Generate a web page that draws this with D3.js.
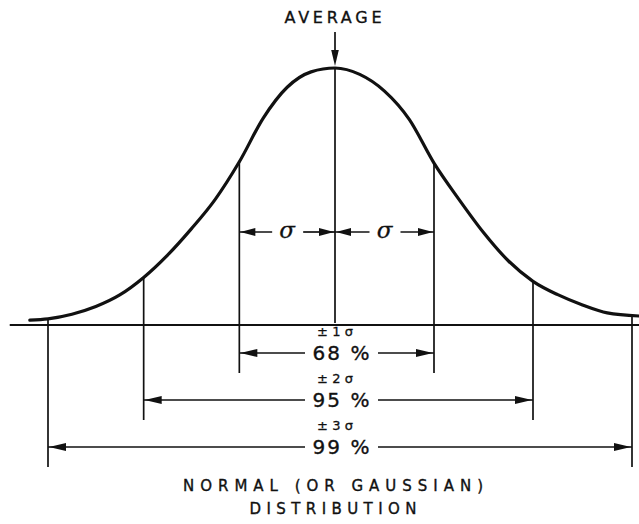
<!DOCTYPE html>
<html><head><meta charset="utf-8">
<script src="https://cdn.jsdelivr.net/npm/d3@7"></script>
<style>body{margin:0;background:#fff}svg{display:block}</style>
</head><body><svg id="c" width="639" height="524"></svg>
<script>
// ---- data (x in standard deviations, height as fraction of peak) ----
const curveSigma  = [-3.19,-3.0,-2.75,-2.5,-2.25,-2.0,-1.75,-1.5,-1.25,-1.0,-0.75,-0.5,-0.25,0,0.25,0.5,0.75,1.0,1.25,1.5,1.75,2.0,2.25,2.5,2.75,3.07];
const curveHeight = [0.019,0.024,0.042,0.072,0.117,0.185,0.272,0.375,0.49,0.635,0.805,0.925,0.985,1.0,0.975,0.91,0.80,0.63,0.49,0.36,0.25,0.17,0.118,0.078,0.047,0.035];
const sigmaLevels = [1, 2, 3];
const levelLabels = ["\u00B1 1 \u03C3", "\u00B1 2 \u03C3", "\u00B1 3 \u03C3"];
const percentLabels = ["68 %", "95 %", "99 %"];
const averageLabel = "AVERAGE";
const titleLines = ["NORMAL (OR GAUSSIAN)", "DISTRIBUTION"];

// ---- layout ----
const svg = d3.select("#c");
const x = d3.scaleLinear().domain([-3, 0, 3]).range([48, 335, 632]);
const y = d3.scaleLinear().domain([0, 1]).range([325, 68]);
const row = d3.scalePoint().domain(sigmaLevels).range([353, 447]);
const ink = "#111";
const sans = "'DejaVu Sans', 'Liberation Sans', sans-serif";

const pts = curveSigma.map((s, i) => [s, curveHeight[i]]);
const heightAt = s => {
  const xs = curveSigma, hs = curveHeight;
  for (let i = 0; i < xs.length - 1; i++) {
    if (s >= xs[i] && s <= xs[i + 1]) {
      const t = (s - xs[i]) / (xs[i + 1] - xs[i]);
      return hs[i] + t * (hs[i + 1] - hs[i]);
    }
  }
  return 0;
};

function arrowhead(tipX, tipY, dir, len = 15, hw = 4) {
  let p;
  if (dir === "down") p = `M${tipX},${tipY}L${tipX - hw},${tipY - len}L${tipX + hw},${tipY - len}Z`;
  else p = `M${tipX},${tipY}L${tipX - dir * len},${tipY - hw}L${tipX - dir * len},${tipY + hw}Z`;
  svg.append("path").attr("d", p).attr("fill", ink);
}
function label(txt, px, py, size, extra = {}) {
  const t = svg.append("text").text(txt)
    .attr("x", px).attr("y", py)
    .attr("text-anchor", "middle")
    .attr("font-family", extra.family || sans).attr("font-size", size)
    .attr("fill", ink).attr("stroke", ink).attr("stroke-width", extra.sw == null ? 0.35 : extra.sw);
  if (extra.len) t.attr("textLength", extra.len).attr("lengthAdjust", "spacing");
  if (extra.italic) t.attr("font-style", "italic");
  return t;
}

// baseline
svg.append("line")
  .attr("x1", x(-3.4)).attr("x2", 639)
  .attr("y1", y(0)).attr("y2", y(0))
  .attr("stroke", ink).attr("stroke-width", 2);

// curve
svg.append("path")
  .datum(pts)
  .attr("d", d3.line().x(d => x(d[0])).y(d => y(d[1])).curve(d3.curveMonotoneX))
  .attr("fill", "none").attr("stroke", ink).attr("stroke-width", 3.2)
  .attr("stroke-linecap", "round");

// centre line
svg.append("line")
  .attr("x1", x(0)).attr("x2", x(0))
  .attr("y1", y(1)).attr("y2", y(0) - 2)
  .attr("stroke", ink).attr("stroke-width", 1.7);

// AVERAGE label + arrow
label(averageLabel, x(0) - 2, 23, 16, { len: 97 });
svg.append("line")
  .attr("x1", x(0)).attr("x2", x(0))
  .attr("y1", 32).attr("y2", 55)
  .attr("stroke", ink).attr("stroke-width", 1.7);
arrowhead(x(0), y(1) - 2, "down", 16, 3.8);

// vertical sigma lines
sigmaLevels.forEach(k => {
  [-k, k].forEach(s => {
    svg.append("line")
      .attr("x1", x(s)).attr("x2", x(s))
      .attr("y1", y(heightAt(s)))
      .attr("y2", row(k) + 20)
      .attr("stroke", ink).attr("stroke-width", 1.7);
  });
});

// sigma arrows between -1,0 and 0,1
const sigY = 232;
[[-1, 0], [0, 1]].forEach(([a, b]) => {
  const xa = x(a), xb = x(b), mid = (xa + xb) / 2;
  svg.append("line").attr("x1", xa).attr("x2", mid - 15).attr("y1", sigY).attr("y2", sigY)
    .attr("stroke", ink).attr("stroke-width", 1.7);
  svg.append("line").attr("x1", mid + 16).attr("x2", xb).attr("y1", sigY).attr("y2", sigY)
    .attr("stroke", ink).attr("stroke-width", 1.7);
  arrowhead(xa + 1, sigY, -1, 15, 4);
  arrowhead(xb - 1, sigY, 1, 15, 4);
  label("\u03C3", mid, sigY + 6, 23, { family: "'DejaVu Serif', serif", italic: true, sw: 0.3 });
});

// percentage brackets
sigmaLevels.forEach((k, i) => {
  const ry = row(k);
  const cx = x(0) + 6;
  label(levelLabels[i], x(0), ry - 17, 13, { sw: 0.3, len: 36 });
  label(percentLabels[i], cx, ry + 7, 20, { len: 57 });
  const left = x(-k), right = x(k);
  svg.append("line").attr("x1", left).attr("x2", cx - 36).attr("y1", ry).attr("y2", ry)
    .attr("stroke", ink).attr("stroke-width", 1.7);
  svg.append("line").attr("x1", cx + 37).attr("x2", right).attr("y1", ry).attr("y2", ry)
    .attr("stroke", ink).attr("stroke-width", 1.7);
  arrowhead(left + 1, ry, -1, 17, 4);
  arrowhead(right - 1, ry, 1, 17, 4);
});

// title
label(titleLines[0], 333, 491, 15, { len: 300 });
label(titleLines[1], 333, 514, 15, { len: 167 });
</script></body></html>
